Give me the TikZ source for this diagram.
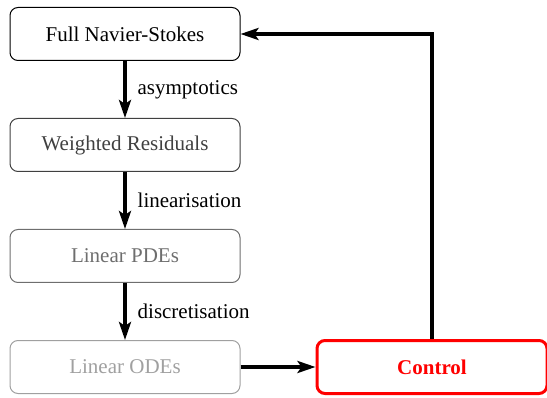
\documentclass[tikz,border=0pt]{standalone}
\usepackage{fontspec}
\setmainfont{Liberation Serif}
\usepackage{tikz}
\definecolor{step1}{RGB}{0,0,0}
\definecolor{step2}{RGB}{64,64,64}
\definecolor{step3}{RGB}{110,110,110}
\definecolor{step4}{RGB}{160,160,160}
\definecolor{ctrlred}{RGB}{255,0,0}
\usetikzlibrary{arrows.meta}

\begin{document}
\begin{tikzpicture}[x=0.5pt,y=0.5pt,font=\fontsize{10.5}{12.6}\selectfont]
  \tikzset{
    stage/.style={draw,rounded corners=4pt,line width=0.5pt,minimum width=115pt,minimum height=26.5pt},
    flow/.style={-{Stealth[length=9pt,width=6pt,inset=2pt]},line width=2pt},
  }
  \useasboundingbox (0,0) rectangle (547,397);

  \node [stage,step1] (fns) at (125,363) {Full Navier-Stokes};
  \node [stage,step2] (wr)  at (125,252) {Weighted Residuals};
  \node [stage,step3] (pde) at (125,141) {Linear PDEs};
  \node [stage,step4] (ode) at (125,30)  {Linear ODEs};
  \node [stage,ctrlred,line width=1.5pt,font=\fontsize{10.5}{12.6}\selectfont\bfseries] (ctrl) at (432,30) {Control};

  \draw [flow] (fns) -- (wr)  node [midway,right,xshift=2pt] {asymptotics};
  \draw [flow] (wr)  -- (pde) node [midway,right,xshift=2pt] {linearisation};
  \draw [flow] (pde) -- (ode) node [midway,right,xshift=2pt] {discretisation};

  \draw [flow] (ode) -- (ctrl);
  \draw [flow] (ctrl.north) |- (fns.east);
\end{tikzpicture}
\end{document}
